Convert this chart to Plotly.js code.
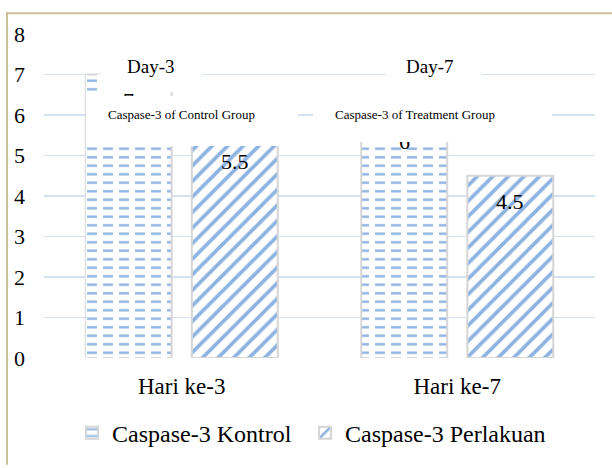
<!DOCTYPE html>
<html>
<head>
<meta charset="utf-8">
<script src="https://cdn.plot.ly/plotly-3.0.1.min.js"></script>
<style>
html,body{margin:0;padding:0;background:#fff;}
#chart{width:612px;height:468px;}
</style>
</head>
<body>
<div id="chart"></div>
<script>
// ---- data ----
const categories = ['Hari ke-3', 'Hari ke-7'];
const kontrolValues = [7, 6];
const perlakuanValues = [5.5, 4.5];
const seriesNames = ['Caspase-3 Kontrol', 'Caspase-3 Perlakuan'];
const yTickValues = [0, 1, 2, 3, 4, 5, 6, 7, 8];
const dayLabels = ['Day-3', 'Day-7'];
const groupLabels = ['Caspase-3 of Control Group', 'Caspase-3 of Treatment Group'];

// ---- styling / layout ----
const FONT = 'Liberation Serif';
const BLUE = '#8db3e2';
const GRID = '#d5e0f1';
const FRAME = '#c9c198';
const W = 612, Hh = 468;
const M = {l: 44, r: 17, t: 34, b: 106};
const PW = W - M.l - M.r, PH = Hh - M.t - M.b;
const BARGAP = 0.23, BARGROUPGAP = 0.19;

// pixel -> paper helpers for overlay boxes
const px = x => (x - M.l) / PW;
const py = y => (Hh - M.b - y) / PH;

const barLine = {color: '#d6d6d6', width: 2};

const traces = [
  {
    type: 'bar', name: seriesNames[0], x: categories, y: kontrolValues,
    offsetgroup: 'k', legend: 'legend',
    marker: {color: 'white', line: barLine,
      pattern: {shape: '-', fgcolor: BLUE, bgcolor: 'white', size: 8.5, solidity: 0.28}},
    hoverinfo: 'skip'
  },
  {
    type: 'bar', name: seriesNames[1], x: categories, y: perlakuanValues,
    offsetgroup: 'p', legend: 'legend2',
    marker: {color: 'white', line: barLine,
      pattern: {shape: '/', fgcolor: BLUE, bgcolor: 'white', size: 11, solidity: 0.33}},
    hoverinfo: 'skip'
  },
  // white vertical cuts turning the control bars' horizontal lines into dashes
  {
    type: 'bar', name: seriesNames[0], x: categories, y: kontrolValues,
    offsetgroup: 'k', showlegend: false,
    marker: {color: 'rgba(255,255,255,0.002)', line: {width: 0},
      pattern: {shape: '|', fgcolor: '#ffffff', fgopacity: 1, bgcolor: 'rgba(255,255,255,0)', size: 16, solidity: 0.38}},
    hoverinfo: 'skip'
  }
];

// bar value labels (drawn first so overlay boxes can hide them)
const slot = (1 - BARGAP) / 2;
const annotations = [];
categories.forEach((c, i) => {
  [[kontrolValues, -1], [perlakuanValues, 1]].forEach(([vals, side]) => {
    annotations.push({
      x: i + side * slot / 2, y: vals[i], xref: 'x', yref: 'y',
      text: String(vals[i]), showarrow: false, yanchor: 'middle', yshift: -26,
      font: {family: FONT, size: 22, color: '#000'}
    });
  });
});

// white overlay boxes (pixel rectangles)
const boxes = [
  [100, 50, 203, 92],
  [386, 50, 482, 92],
  [87, 97, 298, 147],
  [313, 97, 552, 143]
];
boxes.forEach(([x0, y0, x1, y1]) => {
  annotations.push({
    xref: 'paper', yref: 'paper', x: px(x0), y: py(y0), xanchor: 'left', yanchor: 'top',
    width: x1 - x0, height: y1 - y0, bgcolor: 'white', borderpad: 0, borderwidth: 0,
    text: ' ', showarrow: false
  });
});
// texts inside boxes
const boxTexts = [
  [dayLabels[0], 150, 67, 19],
  [dayLabels[1], 429, 67, 19],
  [groupLabels[0], 181.5, 115, 13],
  [groupLabels[1], 415, 115, 13]
];
boxTexts.forEach(([t, x, y, s]) => {
  annotations.push({
    xref: 'paper', yref: 'paper', x: px(x), y: py(y), xanchor: 'center', yanchor: 'middle',
    text: t, showarrow: false, font: {family: FONT, size: s, color: '#000'}
  });
});

const legendBase = {
  orientation: 'h', xanchor: 'left', y: py(438), yanchor: 'middle',
  font: {family: FONT, size: 24, color: '#000'}, itemwidth: 30,
  bgcolor: 'rgba(0,0,0,0)'
};

const layout = {
  width: W, height: Hh,
  margin: M,
  paper_bgcolor: 'white', plot_bgcolor: 'white',
  font: {family: FONT, color: '#000'},
  barmode: 'group', bargap: BARGAP, bargroupgap: BARGROUPGAP,
  showlegend: true,
  legend: Object.assign({}, legendBase, {x: px(72)}),
  legend2: Object.assign({}, legendBase, {x: px(305)}),
  xaxis: {
    type: 'category', range: [-0.5, 1.5], showgrid: false, zeroline: false, showline: false,
    ticks: '', tickfont: {family: FONT, size: 23, color: '#000'}, ticklabelstandoff: 12
  },
  yaxis: {
    range: [0, 8], tickvals: yTickValues, showgrid: true, gridcolor: GRID, gridwidth: 1.5,
    zeroline: false, showline: false, ticks: '',
    tickfont: {family: FONT, size: 22, color: '#000'}, ticklabelstandoff: 18
  },
  shapes: [
    {type: 'line', xref: 'paper', yref: 'paper', x0: px(7), x1: px(7), y0: py(12), y1: py(470),
      line: {color: FRAME, width: 2}, layer: 'above'},
    {type: 'line', xref: 'paper', yref: 'paper', x0: px(7), x1: px(614), y0: py(13), y1: py(13),
      line: {color: FRAME, width: 2}, layer: 'above'}
  ],
  annotations: annotations
};

Plotly.newPlot('chart', traces, layout, {displayModeBar: false, staticPlot: true});
</script>
</body>
</html>
